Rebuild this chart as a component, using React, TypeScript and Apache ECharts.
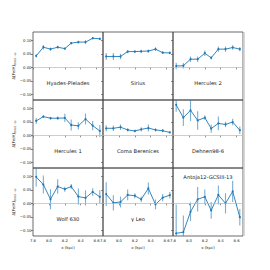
import React, { useEffect, useRef } from "react";
import * as echarts from "echarts";

const xBins = [7.84, 7.93, 8.02, 8.11, 8.2, 8.28, 8.37, 8.46, 8.55, 8.64];
const xTicks = [7.8, 8.0, 8.2, 8.4, 8.6];
const yTicks = [-0.1, -0.05, 0, 0.05, 0.1];

const groupNames = [
  "Hyades-Pleiades",
  "Sirius",
  "Hercules 2",
  "Hercules 1",
  "Coma Berenices",
  "Dehnen98-6",
  "Wolf 630",
  "γ Leo",
  "Antoja12-GCSIII-13",
];

const hyadesY = [0.042, 0.074, 0.067, 0.074, 0.069, 0.089, 0.093, 0.093, 0.107, 0.105];
const hyadesErr = [0.006, 0.008, 0.006, 0.005, 0.004, 0.004, 0.005, 0.007, 0.004, 0.005];
const siriusY = [0.04, 0.04, 0.04, 0.058, 0.058, 0.059, 0.06, 0.067, 0.054, 0.053];
const siriusErr = [0.013, 0.013, 0.01, 0.006, 0.005, 0.006, 0.006, 0.007, 0.005, 0.005];
const hercules2Y = [0.005, 0.006, 0.03, 0.03, 0.052, 0.035, 0.067, 0.067, 0.073, 0.067];
const hercules2Err = [0.012, 0.01, 0.01, 0.01, 0.01, 0.006, 0.01, 0.01, 0.008, 0.008];
const hercules1Y = [0.053, 0.069, 0.063, 0.063, 0.064, 0.038, 0.035, 0.06, 0.036, 0.016];
const hercules1Err = [0.011, 0.005, 0.005, 0.006, 0.015, 0.02, 0.013, 0.02, 0.017, 0.022];
const comaY = [0.026, 0.026, 0.03, 0.02, 0.016, 0.022, 0.027, 0.02, 0.017, 0.011];
const comaErr = [0.011, 0.01, 0.01, 0.006, 0.005, 0.008, 0.013, 0.006, 0.006, 0.003];
const dehnenY = [0.112, 0.065, 0.092, 0.055, 0.065, 0.025, 0.044, 0.04, 0.049, 0.019];
const dehnenErr = [0.025, 0.031, 0.039, 0.034, 0.008, 0.015, 0.025, 0.01, 0.012, 0.014];
const wolfY = [0.097, 0.069, 0.015, 0.062, 0.052, 0.062, 0.025, 0.02, 0.042, 0.024];
const wolfErr = [0.035, 0.033, 0.037, 0.027, 0.009, 0.009, 0.03, 0.028, 0.014, 0.024];
const gammaLeoY = [0.034, 0.002, 0.005, 0.031, 0.028, 0.015, 0.055, -0.004, 0.021, 0.03];
const gammaLeoErr = [0.044, 0.028, 0.02, 0.02, 0.009, 0.01, 0.022, 0.018, 0.013, 0.012];
const antojaY = [-0.11, -0.106, -0.031, 0.015, 0.024, -0.026, 0.031, 0.0, 0.044, -0.051];
const antojaErr = [0.106, 0.061, 0.034, 0.045, 0.027, 0.031, 0.035, 0.037, 0.039, 0.03];

const seriesY = [hyadesY, siriusY, hercules2Y, hercules1Y, comaY, dehnenY, wolfY, gammaLeoY, antojaY];
const seriesErr = [hyadesErr, siriusErr, hercules2Err, hercules1Err, comaErr, dehnenErr, wolfErr, gammaLeoErr, antojaErr];

const BLUE = "#1f77b4";
const FONT = "DejaVu Sans";
const L0 = 33, T0 = 32, W = 70, H = 68;

export default function App() {
  const ref = useRef<HTMLDivElement>(null);
  useEffect(() => {
    if (!ref.current) return;
    const chart = echarts.init(ref.current, null, { renderer: "svg" });
    const grids: any[] = [];
    const xAxes: any[] = [];
    const yAxes: any[] = [];
    const series: any[] = [];
    const graphics: any[] = [];
    for (let i = 0; i < 9; i++) {
      const r = Math.floor(i / 3);
      const c = i % 3;
      const left = L0 + W * c;
      const top = T0 + H * r;
      grids.push({
        left, top, width: W, height: H,
        show: true, borderColor: "#444", borderWidth: 0.8, backgroundColor: "transparent",
      });
      xAxes.push({
        type: "value", gridIndex: i, min: 7.8, max: 8.68,
        axisLine: { show: false },
        splitLine: { show: false },
        axisTick: { show: true, length: 2, customValues: xTicks, lineStyle: { color: "#444", width: 0.6 } },
        axisLabel: {
          show: r === 2, customValues: xTicks, fontSize: 3.8, fontFamily: FONT, color: "#222", margin: 2.5,
          formatter: (v: number) => v.toFixed(1),
        },
        name: r === 2 ? "x (kpc)" : "",
        nameLocation: "middle", nameGap: 9,
        nameTextStyle: { fontSize: 3.9, fontFamily: FONT, color: "#222" },
      });
      yAxes.push({
        type: "value", gridIndex: i, min: -0.12, max: 0.13,
        axisLine: { show: false },
        splitLine: { show: false },
        axisTick: { show: true, length: 2, customValues: yTicks, lineStyle: { color: "#444", width: 0.6 } },
        axisLabel: {
          show: c === 0, customValues: yTicks, fontSize: 3.8, fontFamily: FONT, color: "#222", margin: 1.5,
          formatter: (v: number) => (v < 0 ? "−" : "") + Math.abs(v).toFixed(2),
        },
        name: c === 0 ? "Δ[Fe/H]{s|Orbit - ss}" : "",
        nameLocation: "middle", nameRotate: 90, nameGap: 17,
        nameTextStyle: {
          fontSize: 3.9, fontFamily: FONT, color: "#222",
          rich: { s: { fontSize: 2.8, fontFamily: FONT, color: "#222", padding: [2, 0, 0, 0] } },
        },
      });
      const ys = seriesY[i];
      const es = seriesErr[i];
      series.push({
        type: "custom", xAxisIndex: i, yAxisIndex: i, clip: true, z: 2,
        data: xBins.map((x, k) => [x, ys[k] - es[k], ys[k] + es[k]]),
        encode: { x: 0, y: [1, 2] },
        renderItem: (params: any, api: any) => {
          const x = api.value(0);
          const p1 = api.coord([x, api.value(1)]);
          const p2 = api.coord([x, api.value(2)]);
          return {
            type: "line",
            shape: { x1: p1[0], y1: p1[1], x2: p2[0], y2: p2[1] },
            style: { stroke: BLUE, opacity: 0.6, lineWidth: 1.1 },
          };
        },
      });
      series.push({
        type: "line", xAxisIndex: i, yAxisIndex: i, z: 3,
        data: xBins.map((x, k) => [x, ys[k]]),
        symbol: "circle", symbolSize: 2, showSymbol: true,
        itemStyle: { color: BLUE },
        lineStyle: { color: BLUE, width: 0.9 },
        markLine: {
          silent: true, symbol: "none", label: { show: false },
          lineStyle: { color: "#f3a0a0", width: 0.7, type: "solid" },
          data: [{ yAxis: 0 }],
        },
      });
      const isTop = i === 8;
      graphics.push({
        type: "text",
        x: left + W / 2,
        y: isTop ? top + 9 : top + H - 17,
        style: {
          text: groupNames[i], fontSize: 5.2, fontFamily: FONT, fill: "#222",
          textAlign: "center", textVerticalAlign: "middle",
        },
      });
    }
    graphics.push({
      type: "rect",
      shape: { x: 243.2, y: T0, width: 1.6, height: H * 3 },
      style: { fill: "#cfcfcf" },
    });
    chart.setOption({
      animation: false,
      backgroundColor: "#fff",
      grid: grids,
      xAxis: xAxes,
      yAxis: yAxes,
      series,
      graphic: graphics,
    });
    return () => chart.dispose();
  }, []);
  return (
    <div
      ref={ref}
      style={{ position: "fixed", left: 0, top: 0, width: 270, height: 270 }}
    />
  );
}
